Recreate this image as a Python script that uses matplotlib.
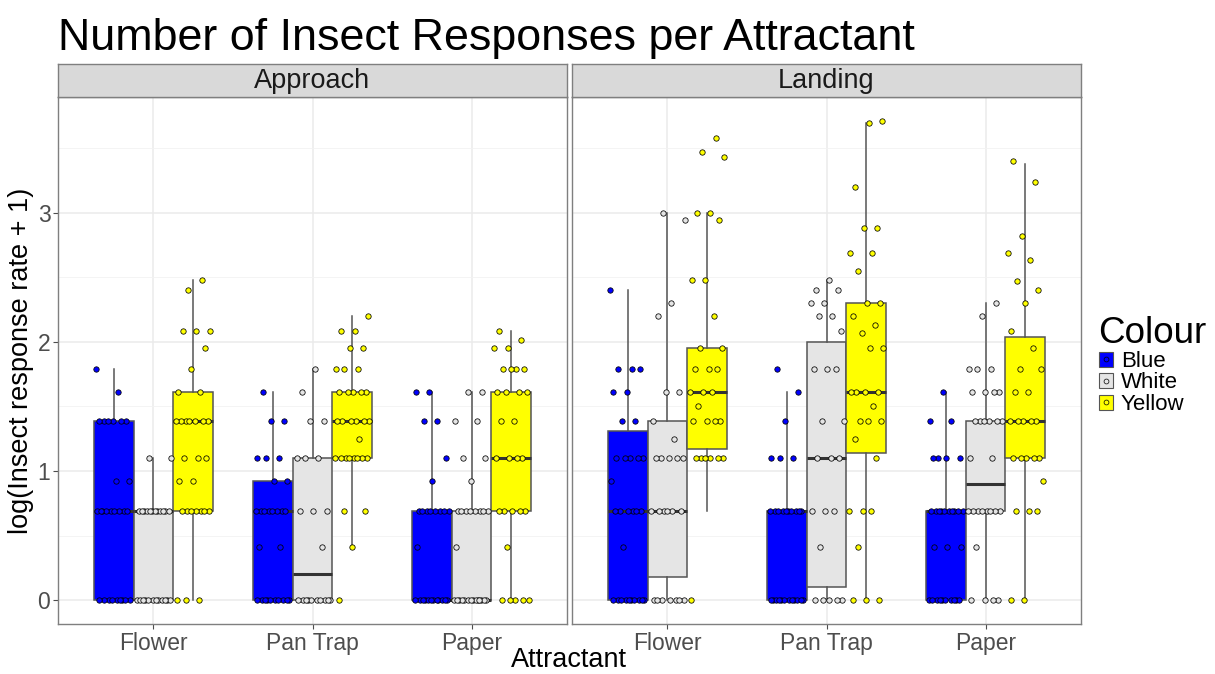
import numpy as np
import matplotlib
matplotlib.use("Agg")
import matplotlib.pyplot as plt
from matplotlib.patches import Patch
from matplotlib.lines import Line2D
from matplotlib.legend_handler import HandlerTuple

plt.rcParams['font.family'] = ['Liberation Sans', 'DejaVu Sans']

# ---------------- data ----------------
title = "Number of Insect Responses per Attractant"
facets = ["Approach", "Landing"]
attractants = ["Flower", "Pan Trap", "Paper"]
colours = ["Blue", "White", "Yellow"]
fills = {"Blue": "#0000FF", "White": "#E5E5E5", "Yellow": "#FFFF00"}
y_ticks = [0, 1, 2, 3]
x_label = "Attractant"
y_label = "log(Insect response rate + 1)"
legend_title = "Colour"

def rep(v, n):
    return [v] * n

# jittered observations, log(rate + 1)
approach_flower_blue = [1.79, 1.61] + rep(1.39, 6) + rep(0.92, 2) + rep(0.69, 9) + rep(0, 9)
approach_flower_white = rep(1.10, 2) + rep(0.69, 12) + rep(0, 12)
approach_flower_yellow = [2.48, 2.40] + rep(2.08, 3) + [1.95, 1.79] + rep(1.61, 2) + rep(1.39, 7) + rep(1.10, 3) + rep(0.92, 2) + rep(0.69, 7) + rep(0, 3)
approach_pantrap_blue = [1.61] + rep(1.39, 2) + rep(1.10, 3) + rep(0.92, 2) + rep(0.69, 8) + rep(0.41, 2) + rep(0, 10)
approach_pantrap_white = [1.79, 1.61] + rep(1.39, 2) + rep(1.10, 3) + rep(0.69, 3) + [0.41] + rep(0, 10)
approach_pantrap_yellow = [2.20] + rep(2.08, 2) + rep(1.95, 2) + rep(1.79, 3) + rep(1.61, 5) + rep(1.39, 6) + [1.25] + rep(1.10, 8) + rep(0.69, 2) + [0.41, 0]
approach_paper_blue = rep(1.61, 2) + rep(1.39, 2) + [1.10, 0.92] + rep(0.69, 8) + [0.41] + rep(0, 12)
approach_paper_white = rep(1.61, 2) + rep(1.39, 2) + rep(1.10, 2) + [0.92] + rep(0.69, 8) + [0.41] + rep(0, 14)
approach_paper_yellow = [2.08, 2.01] + rep(1.95, 2) + rep(1.79, 4) + rep(1.61, 4) + rep(1.39, 2) + rep(1.10, 4) + rep(0.69, 5) + [0.41] + rep(0, 5)

landing_flower_blue = [2.40] + rep(1.79, 3) + rep(1.61, 2) + rep(1.39, 2) + rep(1.10, 5) + [0.92] + rep(0.69, 6) + [0.41] + rep(0, 10)
landing_flower_white = [3.00, 2.94, 2.30, 2.20] + rep(1.61, 2) + [1.39, 1.25] + rep(1.10, 5) + rep(0.69, 6) + rep(0, 7)
landing_flower_yellow = [3.58, 3.47, 3.43] + rep(3.00, 2) + [2.94] + rep(2.48, 2) + [2.20] + rep(1.95, 2) + rep(1.79, 3) + rep(1.61, 3) + [1.50] + rep(1.39, 4) + rep(1.10, 6) + [0]
landing_pantrap_blue = [1.79, 1.61, 1.39] + rep(1.10, 3) + rep(0.69, 10) + rep(0, 12)
landing_pantrap_white = [2.48] + rep(2.40, 2) + rep(2.30, 2) + rep(2.20, 2) + [2.08] + rep(1.79, 3) + rep(1.39, 2) + rep(1.10, 3) + rep(0.69, 3) + [0.41] + rep(0, 5)
landing_pantrap_yellow = [3.71, 3.69, 3.20] + rep(2.88, 2) + rep(2.69, 2) + [2.55] + rep(2.30, 2) + [2.20, 2.13, 2.07] + rep(1.95, 2) + rep(1.61, 4) + [1.50] + rep(1.39, 3) + [1.25, 1.10] + rep(0.69, 3) + [0.41] + rep(0, 3)
landing_paper_blue = [1.61] + rep(1.39, 2) + rep(1.10, 4) + rep(0.69, 10) + rep(0.41, 3) + rep(0, 10)
landing_paper_white = [2.30, 2.20] + rep(1.79, 3) + rep(1.61, 4) + rep(1.39, 6) + rep(1.10, 2) + rep(0.69, 8) + [0.41] + rep(0, 4)
landing_paper_yellow = [3.40, 3.24, 2.82, 2.69, 2.63, 2.47, 2.40, 2.30, 2.08, 1.95] + rep(1.79, 2) + rep(1.61, 2) + rep(1.39, 5) + rep(1.10, 5) + [0.92] + rep(0.69, 3) + rep(0, 2)

points = {
    "Approach": [
        [approach_flower_blue, approach_flower_white, approach_flower_yellow],
        [approach_pantrap_blue, approach_pantrap_white, approach_pantrap_yellow],
        [approach_paper_blue, approach_paper_white, approach_paper_yellow],
    ],
    "Landing": [
        [landing_flower_blue, landing_flower_white, landing_flower_yellow],
        [landing_pantrap_blue, landing_pantrap_white, landing_pantrap_yellow],
        [landing_paper_blue, landing_paper_white, landing_paper_yellow],
    ],
}

# box statistics: [whisker low, q1, median, q3, whisker high]
approach_boxes = [
    [[0, 0, 0.69, 1.39, 1.79], [0, 0, 0.69, 0.69, 1.10], [0, 0.69, 1.39, 1.61, 2.48]],
    [[0, 0, 0.69, 0.92, 1.61], [0, 0, 0.20, 1.10, 1.79], [0.41, 1.10, 1.39, 1.61, 2.20]],
    [[0, 0, 0, 0.69, 1.61], [0, 0, 0, 0.69, 1.61], [0, 0.69, 1.10, 1.61, 2.08]],
]
landing_boxes = [
    [[0, 0, 0.69, 1.31, 2.40], [0, 0.18, 0.69, 1.39, 3.00], [0.69, 1.17, 1.61, 1.95, 3.00]],
    [[0, 0, 0.69, 0.69, 1.61], [0, 0.10, 1.10, 2.00, 2.48], [0, 1.14, 1.61, 2.30, 3.69]],
    [[0, 0, 0.69, 0.69, 1.61], [0, 0.69, 0.90, 1.39, 2.30], [0, 1.10, 1.39, 2.04, 3.38]],
]
boxes = {"Approach": approach_boxes, "Landing": landing_boxes}

# ---------------- figure ----------------
W, H = 1215, 674
fig = plt.figure(figsize=(W / 100, H / 100), dpi=100)

def fx(px):
    return px / W

def fy(py):
    return 1 - py / H

panel_x = [58, 572]
panel_w = 509
panel_top, panel_bot = 97, 624
strip_top = 64

edge_col = "#555555"
grid_col = "#EBEBEB"
border_col = "#7F7F7F"
tick_col = "#4D4D4D"

dodge = 0.25
box_w = 0.25
jw = 0.11
golden = 0.6180339887

for fi, facet in enumerate(facets):
    ax = fig.add_axes([fx(panel_x[fi]), fy(panel_bot), fx(panel_w), (panel_bot - panel_top) / H])
    ax.set_xlim(0.4, 3.6)
    ax.set_ylim(-0.185, 3.895)
    ax.set_yticks(y_ticks)
    ax.set_yticks([0.5, 1.5, 2.5, 3.5], minor=True)
    ax.set_xticks([1, 2, 3])
    ax.grid(True, which="major", color=grid_col, lw=1.1, zorder=0)
    ax.grid(True, which="minor", axis="y", color="#F2F2F2", lw=0.6, zorder=0)
    ax.set_axisbelow(True)
    for s in ax.spines.values():
        s.set_color(border_col)
        s.set_linewidth(1.0)
    ax.tick_params(axis="both", which="major", colors=tick_col, labelcolor=tick_col,
                   labelsize=16.5, length=3.5, width=0.8, pad=2)
    ax.tick_params(axis="both", which="minor", length=0)
    ax.set_xticklabels(attractants)
    if fi == 0:
        ax.set_yticklabels([str(t) for t in y_ticks])
    else:
        ax.tick_params(axis="y", which="major", left=False, labelleft=False)

    for ai in range(3):
        for ci, col in enumerate(colours):
            pos = ai + 1 + (ci - 1) * dodge
            lo, q1, med, q3, hi = boxes[facet][ai][ci]
            st = [dict(whislo=lo, q1=q1, med=med, q3=q3, whishi=hi, fliers=[])]
            ax.bxp(st, positions=[pos], widths=box_w, patch_artist=True,
                   showfliers=False, showcaps=False, manage_ticks=False,
                   boxprops=dict(facecolor=fills[col], edgecolor=edge_col, linewidth=1.1),
                   whiskerprops=dict(color=edge_col, linewidth=1.1),
                   medianprops=dict(color="#333333", linewidth=2.2),
                   zorder=2)
        for ci, col in enumerate(colours):
            pos = ai + 1 + (ci - 1) * dodge
            vals = np.array(points[facet][ai][ci], dtype=float)
            n = len(vals)
            offs = ((np.arange(n) * golden + 0.37 * ci + 0.21 * ai) % 1 - 0.5) * 2 * jw
            ax.scatter(pos + offs, vals, s=15, facecolor=fills[col], edgecolor="black",
                       linewidths=0.55, zorder=3)

    # strip
    sax = fig.add_axes([fx(panel_x[fi]), fy(panel_top), fx(panel_w), (panel_top - strip_top) / H])
    sax.set_facecolor("#D9D9D9")
    sax.set_xticks([])
    sax.set_yticks([])
    for s in sax.spines.values():
        s.set_color(border_col)
        s.set_linewidth(1.0)
    sax.text(0.5, 0.47, facet, ha="center", va="center", fontsize=19.5, color="#1A1A1A",
             transform=sax.transAxes)

fig.text(fx(58), fy(50), title, fontsize=32.3, color="black", ha="left", va="baseline")
fig.text(fx(569), fy(673), x_label, fontsize=19.5, ha="center", va="bottom", color="black")
fig.text(fx(8), fy((panel_top + panel_bot) / 2), y_label, fontsize=19.5, rotation=90,
         ha="left", va="center", color="black")

handles = []
for col in colours:
    handles.append((Patch(facecolor=fills[col], edgecolor=edge_col, linewidth=0.8),
                    Line2D([], [], marker="o", linestyle="none", markersize=3.5,
                           markerfacecolor=fills[col], markeredgecolor="black",
                           markeredgewidth=0.5)))
leg = fig.legend(handles, colours, title=legend_title, loc="upper left",
                 bbox_to_anchor=(fx(1083), fy(300)), frameon=False, fontsize=16,
                 title_fontsize=26.5, handlelength=0.65, handleheight=0.65,
                 handletextpad=0.35, labelspacing=0.02, borderpad=0.2,
                 alignment="left", handler_map={tuple: HandlerTuple(ndivide=1)})

fig.savefig("out.png", dpi=100)
